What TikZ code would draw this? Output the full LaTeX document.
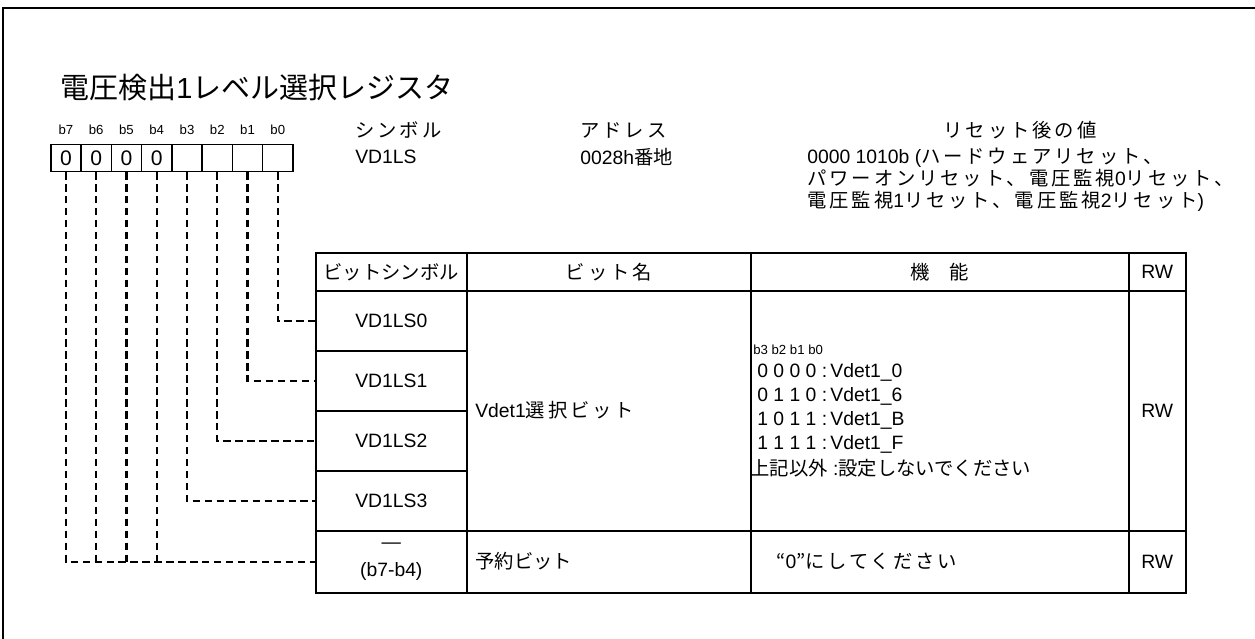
\documentclass[tikz,border=0pt]{standalone}
\usepackage{fontspec}
\setmainfont{Liberation Sans}
\newfontfamily\jp[LetterSpace=15]{Noto Sans CJK JP}
\newfontfamily\jpn{Noto Sans CJK JP}
\usetikzlibrary{positioning}
\tikzset{
  frame/.style = {line width=1.7pt},
  bitbox/.style = {draw, line width=0.8pt, minimum width=0.605cm, minimum height=0.54cm, inner sep=0pt, font=\fontsize{12}{14}\selectfont},
  bitlabel/.style = {inner sep=0pt, font=\fontsize{7.5}{9}\selectfont},
  cell/.style 2 args = {draw, line width=0.9pt, anchor=north west, inner sep=0pt, align=center, minimum width=#1*0.02cm, minimum height=#2*0.02cm, font=\fontsize{11}{13}\selectfont},
  txt/.style = {inner sep=0pt, font=\fontsize{11}{13}\selectfont},
  link/.style = {line width=1.4pt, dash pattern=on 4.2pt off 2.6pt},
}

\begin{document}
\begin{tikzpicture}[x=0.02cm, y=-0.02cm]
  \useasboundingbox (0,0) rectangle (1255,639);
  \draw[frame] (3,639) -- (3,8) -- (1255,8);

  \node[anchor=west, inner sep=0pt, font=\fontsize{16.5}{18}\selectfont] (title) at (60,88) {{\jpn 電圧検出}1{\jpn レベル選択レジスタ}};

  % register bits
  \foreach \b [count=\i from 0] in {7,6,...,0} {
    \node[bitbox] (b\b) at ({66+30.25*\i},158) {\ifnum\b>3 0\fi};
    \node[bitlabel, above=5pt of b\b] (l\b) {b\b};
  }

  \node[txt, anchor=west] (symh) at (355,130) {\jp シンボル};
  \node[txt, anchor=west] (symv) at (355,157) {VD1LS};
  \node[txt, anchor=west] (adrh) at (580,130) {\jp アドレス};
  \node[txt, anchor=west] (adrv) at (580,157) {0028h{\jpn 番地}};
  \node[txt] (rsth) at (1020,130) {\jp リセット後の値};
  \node[txt, anchor=north west, align=left, font=\fontsize{11}{12.5}\selectfont] (rstv) at (807,148)
    {0000 1010b ({\jp ハードウェアリセット、}\\{\jp パワーオンリセット、電圧監視}0{\jp リセット、}\\{\jp 電圧監視}1{\jp リセット、電圧監視}2{\jp リセット})};

  % table
  \node[cell={151}{38}] (hsym) at (315,252) {\jpn ビットシンボル};
  \node[cell={284}{38}] (hname) at (466,252) {\jp ビット名};
  \node[cell={378}{38}] (hfunc) at (750,252) {\jp 機\quad 能};
  \node[cell={57}{38}] (hrw) at (1128,252) {RW};
  \foreach \k in {0,...,3}
    \node[cell={151}{60}] (s\k) at (315,290+60*\k) {VD1LS\k};
  \node[cell={284}{240}] (name) at (466,290) {};
  \node[cell={378}{240}] (func) at (750,290) {};
  \node[cell={57}{240}] (rw) at (1128,290) {RW};
  \node[cell={151}{62}] (sr) at (315,530) {—\\[3pt](b7-b4)};
  \node[cell={284}{62}] (nr) at (466,530) {};
  \node[cell={378}{62}] (fr) at (750,530) {};
  \node[cell={57}{62}] (rr) at (1128,530) {RW};

  \node[txt, anchor=west] (namev) at (475,410) {Vdet1{\jp 選択ビット}};
  \node[bitlabel, anchor=west] (fbits) at (753,350) {b3 b2 b1 b0};
  \foreach \v/\n [count=\i from 0] in {0 0 0 0/0, 0 1 1 0/6, 1 0 1 1/B, 1 1 1 1/F}
    \node[txt, anchor=west] (f\i) at (757,372+24*\i) {\v\ :\,Vdet1\_\n};
  \node[txt, anchor=west] (fo) at (750,468) {{\jpn 上記以外} :{\jpn 設定しないでください}};
  \node[txt, anchor=west] (nrv) at (475,561) {\jpn 予約ビット};
  \node[txt, anchor=west] (frv) at (776,561) {{\jpn “}0{\jpn ”}{\jp にしてください}};

  % bit connectors
  \draw[link] (b0.south) |- (s0.west);
  \draw[link] (b1.south) |- (s1.west);
  \draw[link] (b2.south) |- (s2.west);
  \draw[link] (b3.south) |- (s3.west);
  \draw[link] (b7.south) |- (sr.west);
  \foreach \b in {4,5,6}
    \draw[link] (b\b.south) -- (b\b.south |- sr.west);
\end{tikzpicture}
\end{document}
